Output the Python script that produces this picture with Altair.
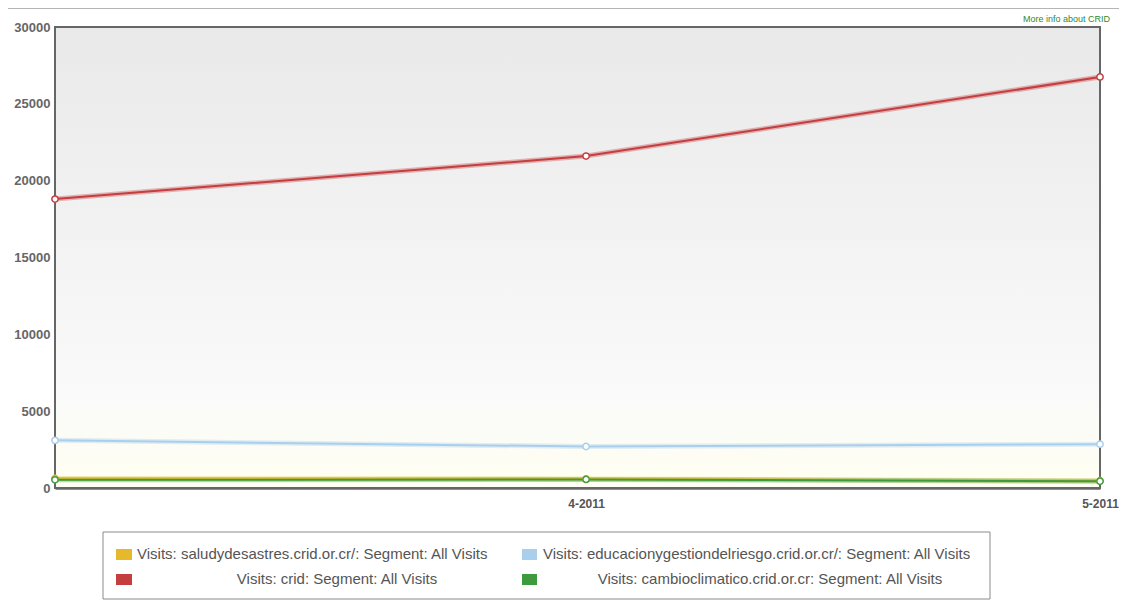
import altair as alt
import pandas as pd

months = ["3-2011", "4-2011", "5-2011"]
month_dates = ["2011-03-01T00:00:00", "2011-04-01T00:00:00", "2011-05-01T00:00:00"]
series_names = [
    "Visits: saludydesastres.crid.or.cr/: Segment: All Visits",
    "Visits: educacionygestiondelriesgo.crid.or.cr/: Segment: All Visits",
    "Visits: crid: Segment: All Visits",
    "Visits: cambioclimatico.crid.or.cr: Segment: All Visits",
]
salud = [620, 590, 470]
educacion = [3100, 2700, 2850]
crid = [18800, 21600, 26750]
cambio = [530, 560, 440]
series_colors = ["#e6b92c", "#a9cfec", "#c43d3f", "#3d9a3d"]
y_ticks = [0, 5000, 10000, 15000, 20000, 25000, 30000]
link_text = ["More info about CRID"]

rows = []
for name, vals in zip(series_names, [salud, educacion, crid, cambio]):
    for d, v in zip(month_dates, vals):
        rows.append({"date": d, "series": name, "visits": v})
df = pd.DataFrame(rows)

W, H = 1045, 461

x_enc = alt.X(
    "date:T",
    scale=alt.Scale(domain=[month_dates[0], month_dates[-1]], nice=False),
    axis=alt.Axis(
        title=None,
        values=[alt.DateTime(year=2011, month=m, date=1) for m in [3, 4, 5]],
        format="%-m-%Y",
        labelExpr="month(datum.value) == 2 ? '' : datum.label",
        labelAngle=0,
        labelFlush=False,
        ticks=False,
        labelFontSize=12,
        labelFontWeight="bold",
        labelColor="#555",
        labelPadding=10,
        domainColor="#8f8f8f",
        domainWidth=3,
        grid=True,
        gridColor="#cfcfcf",
        gridWidth=1,
    ),
)
y_enc = alt.Y(
    "visits:Q",
    scale=alt.Scale(domain=[0, 30000], nice=False),
    axis=alt.Axis(
        title=None,
        values=y_ticks,
        format="d",
        ticks=False,
        labelFontSize=13,
        labelFontWeight="bold",
        labelColor="#666",
        labelPadding=5,
        domainColor="#555555",
        domainWidth=2,
        gridColor="#dedede",
        gridWidth=1,
    ),
)
color_enc = alt.Color(
    "series:N",
    scale=alt.Scale(domain=series_names, range=series_colors),
    legend=None,
)

one = pd.DataFrame({"a": [0]})

background = alt.Chart(one).mark_rect(
    color=alt.Gradient(
        gradient="linear",
        x1=0, y1=0, x2=0, y2=1,
        stops=[
            alt.GradientStop(offset=0, color="#e9e9e9"),
            alt.GradientStop(offset=0.8, color="#fafafa"),
            alt.GradientStop(offset=1, color="#fffff2"),
        ],
    ),
    stroke="#666666",
    strokeWidth=2,
).encode(x=alt.value(0), x2=alt.value(W), y=alt.value(0), y2=alt.value(H))

top_rule = alt.Chart(one).mark_rule(
    color="#b5b5b5", strokeWidth=2
).encode(x=alt.value(-47), x2=alt.value(W + 20), y=alt.value(-19))

link = alt.Chart(pd.DataFrame({"t": link_text})).mark_text(
    align="left", baseline="bottom", fontSize=9, color="#2f8a2f"
).encode(text="t:N", x=alt.value(968), y=alt.value(-3))

base = alt.Chart(df)
halo = base.mark_line(strokeWidth=5, opacity=0.35).encode(x=x_enc, y=y_enc, color=color_enc)
lines = base.mark_line(strokeWidth=2).encode(x=x_enc, y=y_enc, color=color_enc)
points = base.mark_point(filled=False, fill="white", size=40, strokeWidth=1.5, opacity=1).encode(
    x=x_enc, y=y_enc, color=color_enc
)

# Legend box (two columns, two rows) drawn as decoration
legend_box = alt.Chart(one).mark_rect(
    fill="white", stroke="#8a8a8a", strokeWidth=1
).encode(x=alt.value(48), x2=alt.value(935), y=alt.value(505), y2=alt.value(572))

# layout slots: (symbol x0, symbol x1, label x, label align, row centre y)
slots = [
    (61, 77, 82, "left", 527),     # saludydesastres
    (467, 482, 488, "left", 527),  # educacionygestiondelriesgo
    (61, 77, 282, "center", 552),  # crid
    (467, 482, 715, "center", 552),  # cambioclimatico
]
legend_layers = [legend_box]
for name, col, (sx0, sx1, lx, al, cy) in zip(series_names, series_colors, slots):
    legend_layers.append(
        alt.Chart(one).mark_rect(color=col).encode(
            x=alt.value(sx0), x2=alt.value(sx1), y=alt.value(cy - 5), y2=alt.value(cy + 6)
        )
    )
    legend_layers.append(
        alt.Chart(pd.DataFrame({"t": [name]})).mark_text(
            align=al, baseline="middle", fontSize=15, color="#555"
        ).encode(text="t:N", x=alt.value(lx), y=alt.value(cy))
    )

chart = alt.layer(background, top_rule, link, halo, lines, points, *legend_layers).properties(
    width=W,
    height=H,
    autosize=alt.AutoSizeParams(type="none"),
    padding={"left": 47, "top": 19, "right": 19, "bottom": 112},
).configure_view(
    strokeWidth=0
).configure(
    font="Liberation Sans"
)

chart.save("out.html", embed_options={"renderer": "svg", "actions": False})
